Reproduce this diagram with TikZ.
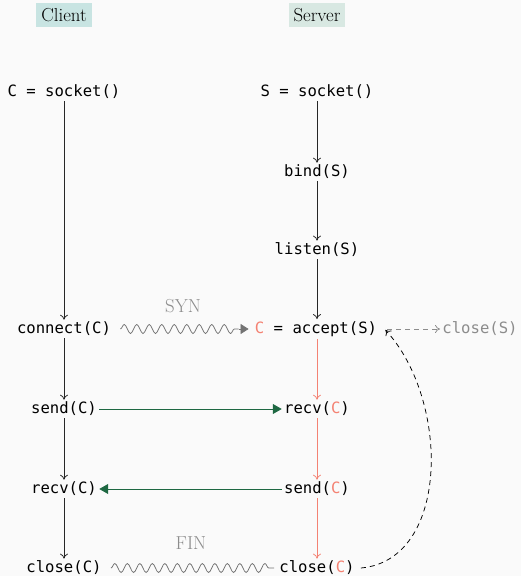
\documentclass[tikz,border=0pt]{standalone}
\usepackage{fontspec}
\newfontfamily\codefont{DejaVu Sans Mono}
\usetikzlibrary{arrows.meta,decorations.pathmorphing}

\definecolor{bgcol}{RGB}{250,250,250}
\definecolor{clientcol}{RGB}{200,228,226}
\definecolor{servercol}{RGB}{216,232,226}
\definecolor{salmon}{RGB}{244,130,115}
\definecolor{msggreen}{RGB}{30,104,66}
\definecolor{greytxt}{RGB}{140,140,140}
\definecolor{wavecol}{RGB}{115,115,115}

\tikzset{every picture/.style={line width=0.75pt}}
\tikzset{
  call/.style={inner sep=2pt, font=\fontsize{15.6}{18}\selectfont\codefont},
  side/.style={inner sep=5pt, font=\fontsize{18.8}{22}\selectfont},
  flow/.style={-{To[length=5pt,width=8pt]}, black!85},
  flowsrv/.style={-{To[length=5pt,width=8pt]}, salmon},
  msg/.style={-{Triangle[length=9pt,width=10pt]}, msggreen, line width=1pt},
  wave/.style={wavecol, decorate, decoration={snake, amplitude=4.5pt, segment length=12.5pt}},
  longdash/.style={dash pattern=on 5pt off 4pt},
}
\newcommand{\sockc}{\textcolor{salmon}{C}}

\begin{document}
\begin{tikzpicture}[x=1pt,y=1pt,yscale=-1,xscale=1]
\fill[bgcol] (0,0) rectangle (521,576);
\useasboundingbox (0,0) rectangle (521,576);

% Headers
\node[side, fill=clientcol] (client) at (64,15) {Client};
\node[side, fill=servercol] (server) at (317,15) {Server};

% Client side
\node[call] (csock) at (64,92) {C = socket()};
\node[call] (cconn) at (64,329) {connect(C)};
\node[call] (csend) at (64,409) {send(C)};
\node[call] (crecv) at (64,489) {recv(C)};
\node[call] (cclose) at (64,568) {close(C)};

% Server side
\node[call] (ssock) at (317,92) {S = socket()};
\node[call] (sbind) at (317,172) {bind(S)};
\node[call] (slisten) at (317,250) {listen(S)};
\node[call] (saccept) at (316,329) {\sockc{} = accept(S)};
\node[call] (srecv) at (317,409) {recv(\sockc)};
\node[call] (ssend) at (317,489) {send(\sockc)};
\node[call] (sclose) at (317,568) {close(\sockc)};
\node[call, text=greytxt] (sclosel) at (480,329) {close(S)};

% Client flow
\draw[flow] (csock) -- (cconn);
\draw[flow] (cconn) -- (csend);
\draw[flow] (csend) -- (crecv);
\draw[flow] (crecv) -- (cclose);

% Server flow
\draw[flow] (ssock) -- (sbind);
\draw[flow] (sbind) -- (slisten);
\draw[flow] (slisten.south) -- (slisten.south |- saccept.north);
\draw[flowsrv] (slisten.south |- saccept.south) -- (srecv);
\draw[flowsrv] (srecv) -- (ssend);
\draw[flowsrv] (ssend) -- (sclose);

% Messages
\draw[wave] ([xshift=7pt]cconn.east) -- ([xshift=-14pt]saccept.west);
\draw[wavecol, -{Triangle[length=8pt,width=10pt]}] ([xshift=-14pt]saccept.west) -- ([xshift=-4pt]saccept.west);
\node[side, text=greytxt] (syn) at (183,306) {SYN};
\draw[msg] (csend) -- (srecv);
\draw[msg] (ssend) -- (crecv);
\draw[wave] ([xshift=7pt]cclose.east) -- ([xshift=-3pt]sclose.west);
\node[side, text=greytxt] (fin) at (191,543) {FIN};

% Back to accept
\draw[longdash, -{To[length=5pt,width=8pt]}] ([xshift=4pt]sclose.east) .. controls (450,560) and (450,400) .. ([xshift=6pt,yshift=1pt]saccept.east);
\draw[longdash, greytxt, -{To[length=5pt,width=8pt]}] ([xshift=8pt]saccept.east) -- (sclosel.west);

\end{tikzpicture}
\end{document}
